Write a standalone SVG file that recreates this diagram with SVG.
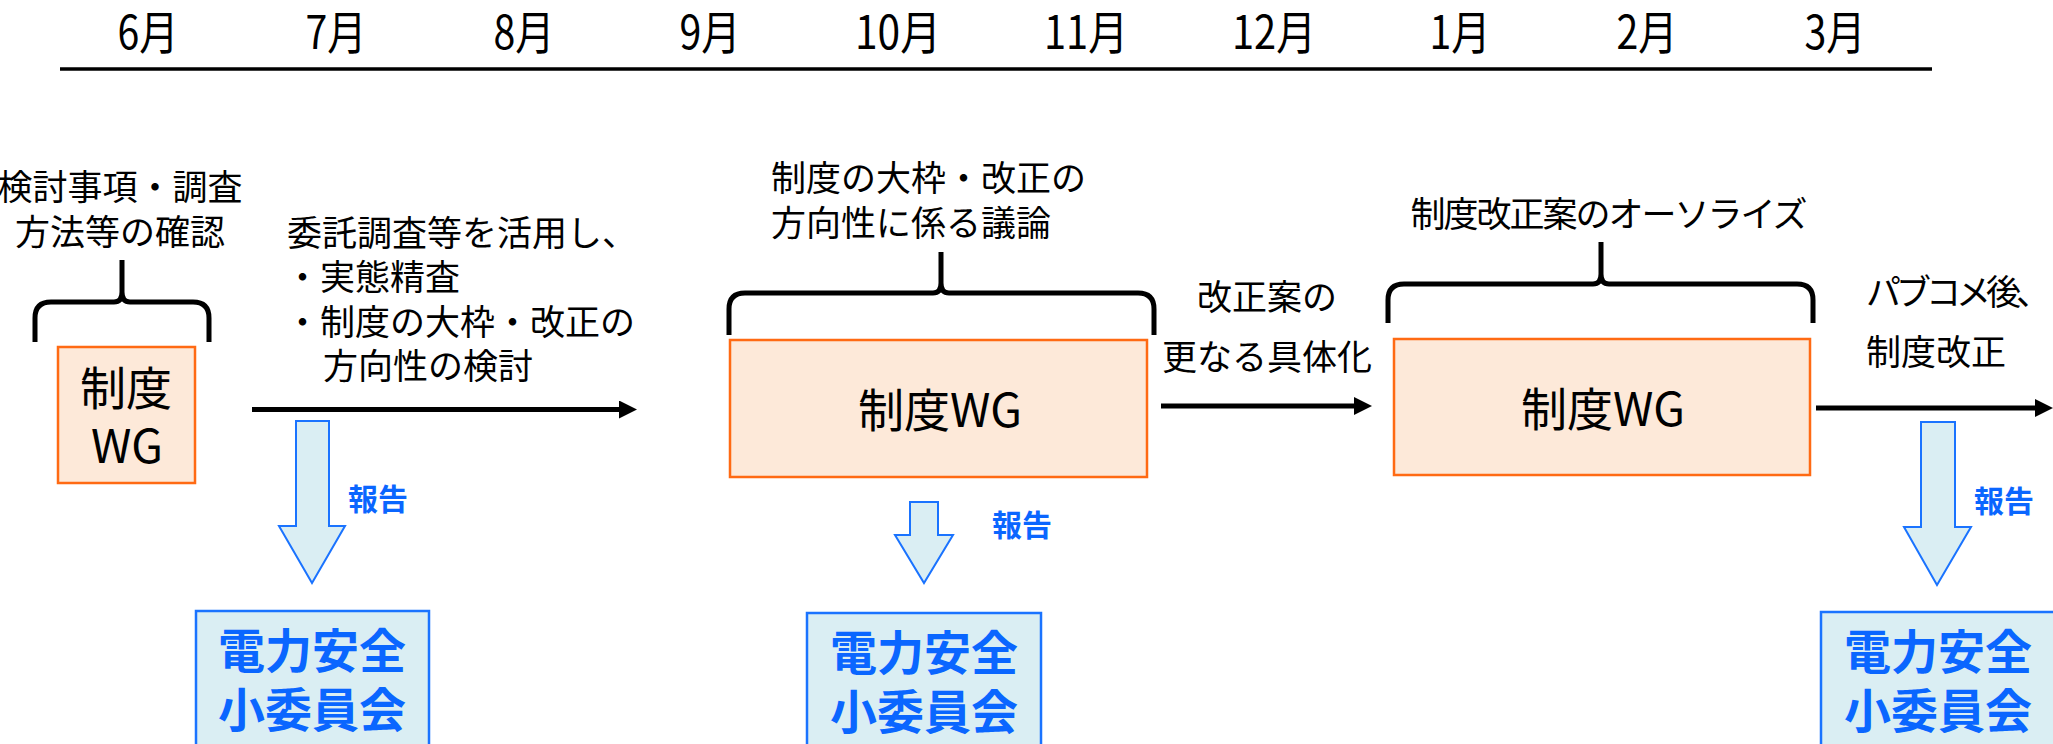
<svg xmlns="http://www.w3.org/2000/svg" width="2053" height="744" viewBox="0 0 2053 744">
<defs>
<style>
text{font-family:"Noto Sans CJK JP","Noto Sans",sans-serif;fill:#000}
.m{font-size:46px;text-anchor:middle}
.t{font-size:35px}
.c{text-anchor:middle}
.wg{fill:#FDE9D9;stroke:#FF6A13;stroke-width:2.5}
.wgt{font-size:46px;text-anchor:middle}
.cm{fill:#DAEEF3;stroke:#1A73FF;stroke-width:2.5}
.cmt{font-size:47px;font-weight:bold;fill:#0A66FF;text-anchor:middle}
.rp{font-size:30px;font-weight:bold;fill:#0A66FF}
.ba{fill:#DAEEF3;stroke:#1A73FF;stroke-width:2}
.br{fill:none;stroke:#000;stroke-width:5;stroke-linejoin:round}
.ar{stroke:#000;stroke-width:5;fill:none}
</style>
<marker id="ah" markerUnits="userSpaceOnUse" markerWidth="18" markerHeight="18" refX="2" refY="9" orient="auto">
<path d="M0,0 L18,9 L0,18 Z" fill="#000"/>
</marker>
</defs>
<rect width="2053" height="744" fill="#fff"/>
<g id="timeline">
<line x1="60" y1="69" x2="1932" y2="69" stroke="#000" stroke-width="3.5"/>
<text class="m" x="148" y="49" textLength="61" lengthAdjust="spacingAndGlyphs">6月</text>
<text class="m" x="336" y="49" textLength="61" lengthAdjust="spacingAndGlyphs">7月</text>
<text class="m" x="524" y="49" textLength="61" lengthAdjust="spacingAndGlyphs">8月</text>
<text class="m" x="710" y="49" textLength="61" lengthAdjust="spacingAndGlyphs">9月</text>
<text class="m" x="898" y="49" textLength="86" lengthAdjust="spacingAndGlyphs">10月</text>
<text class="m" x="1086" y="49" textLength="84" lengthAdjust="spacingAndGlyphs">11月</text>
<text class="m" x="1274" y="49" textLength="84" lengthAdjust="spacingAndGlyphs">12月</text>
<text class="m" x="1460" y="49" textLength="61" lengthAdjust="spacingAndGlyphs">1月</text>
<text class="m" x="1647" y="49" textLength="61" lengthAdjust="spacingAndGlyphs">2月</text>
<text class="m" x="1835" y="49" textLength="61" lengthAdjust="spacingAndGlyphs">3月</text>
</g>
<g id="braces">
<path class="br" d="M35,342 L35,318 Q35,302 51,302 L114,302 Q122,302 122,292 L122,260 M122,292 Q122,302 130,302 L193,302 Q209,302 209,318 L209,342"/>
<path class="br" d="M729,335 L729,309 Q729,293 745,293 L933,293 Q941,293 941,283 L941,252 M941,283 Q941,293 949,293 L1138,293 Q1154,293 1154,309 L1154,335"/>
<path class="br" d="M1388,323 L1388,300 Q1388,284 1404,284 L1593,284 Q1601,284 1601,274 L1601,242 M1601,274 Q1601,284 1609,284 L1797,284 Q1813,284 1813,300 L1813,323"/>
</g>
<g id="labels">
<text class="t c" x="120" y="200">検討事項・調査</text>
<text class="t c" x="120" y="245">方法等の確認</text>
<text class="t" x="287" y="246">委託調査等を活用し、</text>
<text class="t" x="285" y="290">・実態精査</text>
<text class="t" x="285" y="335">・制度の大枠・改正の</text>
<text class="t" x="323" y="379">方向性の検討</text>
<text class="t" x="771" y="191">制度の大枠・改正の</text>
<text class="t" x="771" y="236">方向性に係る議論</text>
<text class="t c" x="1267" y="310">改正案の</text>
<text class="t c" x="1267" y="370">更なる具体化</text>
<text class="t c" x="1608" y="227" letter-spacing="-2">制度改正案のオーソライズ</text>
<text class="t" x="1866" y="305" letter-spacing="-5">パブコメ後、</text>
<text class="t" x="1866" y="365">制度改正</text>
</g>
<g id="wg1">
<rect class="wg" x="58" y="347" width="137" height="136"/>
<text class="wgt"><tspan x="126" y="405">制度</tspan><tspan x="127" y="463">WG</tspan></text>
</g>
<g id="wg2">
<rect class="wg" x="730" y="340" width="417" height="137"/>
<text class="wgt" x="940" y="427">制度WG</text>
</g>
<g id="wg3">
<rect class="wg" x="1394" y="339" width="416" height="136"/>
<text class="wgt" x="1603" y="426">制度WG</text>
</g>
<g id="committee1">
<rect class="cm" x="196" y="611" width="233" height="150"/>
<text class="cmt"><tspan x="312" y="668">電力安全</tspan><tspan x="312" y="727">小委員会</tspan></text>
</g>
<g id="committee2">
<rect class="cm" x="807" y="613" width="234" height="150"/>
<text class="cmt"><tspan x="924" y="670">電力安全</tspan><tspan x="924" y="729">小委員会</tspan></text>
</g>
<g id="committee3">
<rect class="cm" x="1821" y="612" width="234" height="150"/>
<text class="cmt"><tspan x="1938" y="669">電力安全</tspan><tspan x="1938" y="728">小委員会</tspan></text>
</g>
<g id="connectors">
<line class="ar" x1="252" y1="409.5" x2="621" y2="409.5" marker-end="url(#ah)"/>
<line class="ar" x1="1161" y1="406" x2="1356" y2="406" marker-end="url(#ah)"/>
<line class="ar" x1="1816" y1="408" x2="2037" y2="408" marker-end="url(#ah)"/>
<polygon class="ba" points="296,421 329,421 329,526 345,526 312,583 279,526 296,526"/>
<polygon class="ba" points="910,502 938,502 938,535 953,535 924,583 895,535 910,535"/>
<polygon class="ba" points="1921,422 1955,422 1955,527 1971,527 1937,585 1904,527 1921,527"/>
<text class="rp" x="348" y="510">報告</text>
<text class="rp" x="992" y="536">報告</text>
<text class="rp" x="1974" y="512">報告</text>
</g>
</svg>
